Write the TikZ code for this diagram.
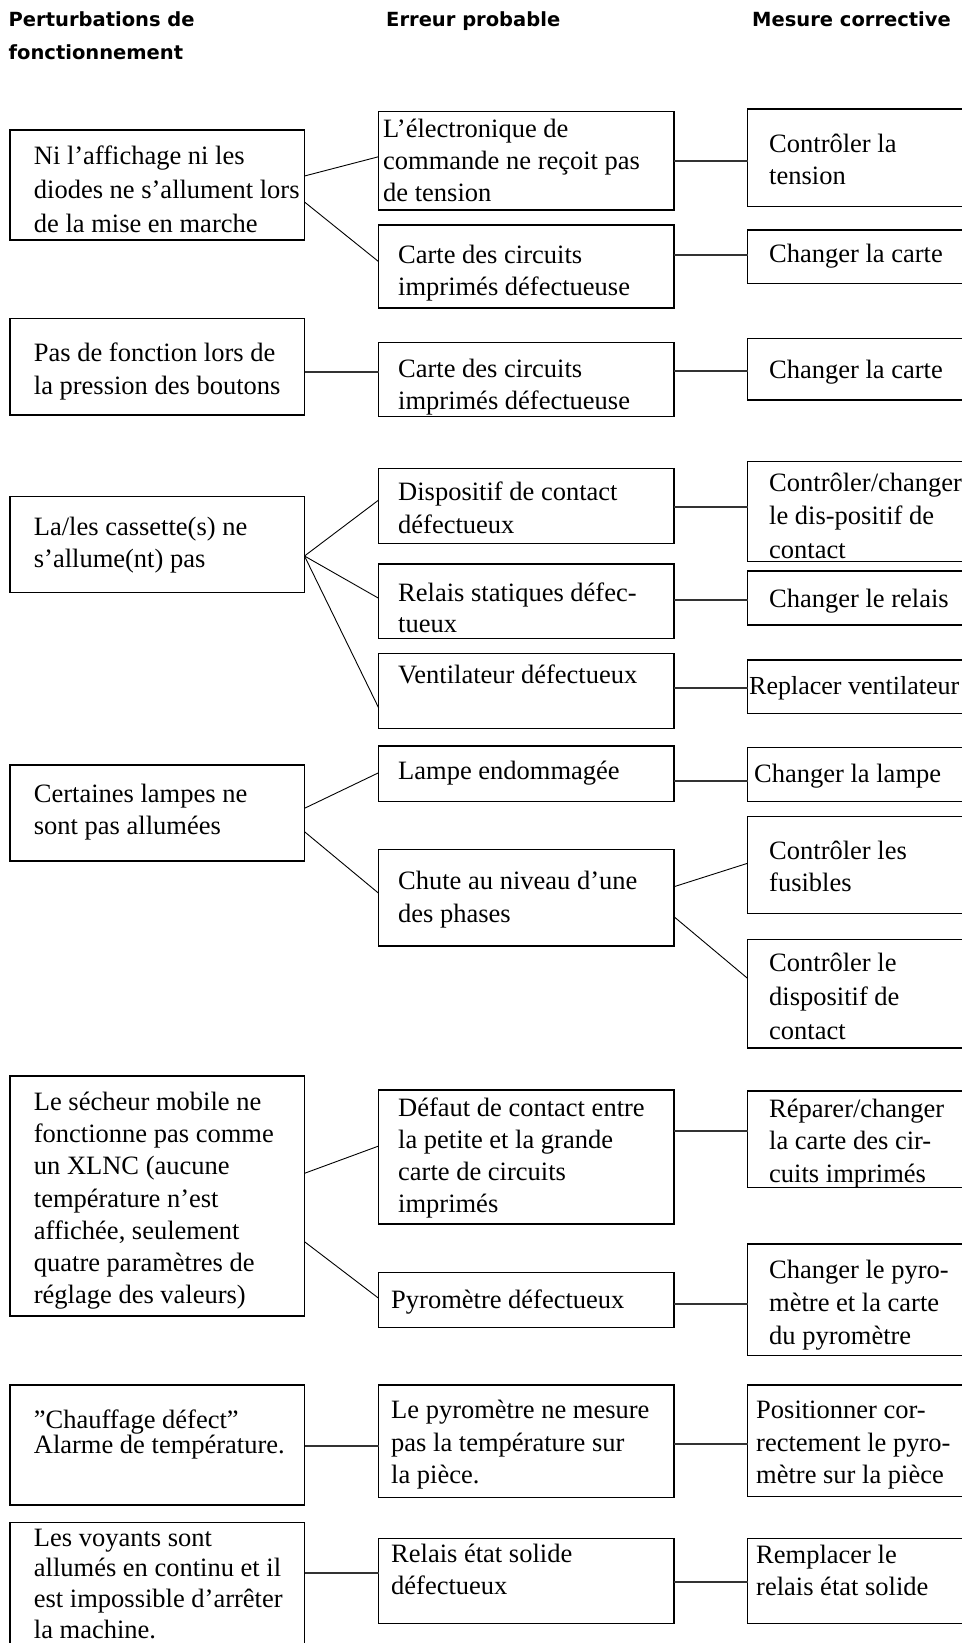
\documentclass[tikz,border=0pt]{standalone}
\usepackage{fontspec}
\setmainfont{Liberation Serif}
\newfontfamily\hdrfont{DejaVu Sans}
\setlength{\lineskiplimit}{-20pt}
\tikzset{
  box/.style={draw=black, line width=1.5pt, rectangle, inner sep=0pt, outer sep=0pt, anchor=north west},
  txt/.style={anchor=north west, inner sep=0pt, align=left},
  hdr/.style={anchor=north west, inner sep=0pt, align=left, font=\hdrfont\bfseries\fontsize{19.5}{32.5}\selectfont},
  hline/.style={draw=black!80, line width=1.8pt},
  sline/.style={draw=black, line width=0.9pt},
}
% \mybox{name}{x1}{y1}{x2}{y2}
\newcommand\mybox[5]{\node[box, minimum width={#4-#2}, minimum height={#5-#3}] (#1) at (#2,#3) {};}
% \mytext[line spacing]{name}{x}{first baseline}{text}
\newcommand\mytext[5][32.5]{\node[txt, font=\fontsize{26.5}{#1}\selectfont] (#2) at (#3,{#4-0.7*#1}) {\strut #5};}
% \conn[style]{A}{dyA}{B}{dyB}
\newcommand\conn[5][sline]{\draw[#1] ([yshift=-#3pt]#2.north east) -- ([yshift=-#5pt]#4.north west);}
\begin{document}
\begin{tikzpicture}[x=1pt,y=-1pt]
\useasboundingbox (0,0) rectangle (961,1643);
% headers
\node[hdr] (h1) at (8.5,4) {\strut Perturbations de\\fonctionnement};
\node[hdr] (h2) at (386,4) {\strut Erreur probable};
\node[hdr] (h3) at (752,4) {\strut Mesure corrective};

% ---- group 1
\mybox{L1}{10}{130}{304.5}{240}
\mybox{M1a}{378.7}{111.7}{674}{210}
\mybox{M1b}{378.7}{225}{674}{308}
\mybox{R1a}{747.5}{109}{975}{206.7}
\mybox{R1b}{747.5}{230}{975}{283.3}
\mytext[34]{L1t}{33.7}{164}{Ni l’affichage ni les\\diodes ne s’allument lors\\de la mise en marche}
\mytext[32]{M1at}{383}{137}{L’électronique de\\commande ne reçoit pas\\de tension}
\mytext[32]{M1bt}{398}{263.7}{Carte des circuits\\imprimés défectueuse}
\mytext{R1at}{769}{152}{Contrôler la\\tension}
\mytext{R1bt}{769}{262}{Changer la carte}
\conn{L1}{46}{M1a}{45}
\conn{L1}{72}{M1b}{36.7}
\conn[hline]{M1a}{49.3}{R1a}{52}
\conn[hline]{M1b}{30}{R1b}{25}

% ---- group 2
\mybox{L2}{10}{318.3}{304.5}{415}
\mybox{M2}{378.7}{342.3}{674}{416.7}
\mybox{R2}{747.5}{338.3}{975}{400}
\mytext[33]{L2t}{33.7}{361}{Pas de fonction lors de\\la pression des boutons}
\mytext{M2t}{398}{377}{Carte des circuits\\imprimés défectueuse}
\mytext{R2t}{769}{378.2}{Changer la carte}
\conn[hline]{L2}{53.4}{M2}{29.4}
\conn[hline]{M2}{28.4}{R2}{32.4}

% ---- group 3
\mybox{L3}{10}{496.7}{304.5}{592.5}
\mybox{M3a}{378.7}{468.3}{674}{543.3}
\mybox{R3a}{747.5}{461.7}{975}{561.7}
\mybox{M3b}{378.7}{564}{674}{638.3}
\mybox{R3b}{747.5}{571}{975}{625}
\mybox{M3c}{378.7}{653.3}{674}{728.3}
\mybox{R3c}{747.5}{660}{975}{713.3}
\mytext{L3t}{33.7}{535.2}{La/les cassette(s) ne\\s’allume(nt) pas}
\mytext[33]{M3at}{398}{500.5}{Dispositif de contact\\défectueux}
\mytext[33.5]{R3at}{769}{491}{Contrôler/changer\\le dis-positif de\\contact}
\mytext[31.7]{M3bt}{398}{601}{Relais statiques défec-\\tueux}
\mytext{R3bt}{769}{607}{Changer le relais}
\mytext{M3ct}{398}{683.7}{Ventilateur défectueux}
\node[txt, font=\fontsize{26}{32}\selectfont] (R3ct) at (749,{694.5-22.4}) {\strut Replacer ventilateur};
\conn{L3}{59.3}{M3a}{31.7}
\conn{L3}{59.3}{M3b}{34.3}
\conn{L3}{59.3}{M3c}{54.7}
\conn[hline]{M3a}{38.4}{R3a}{45}
\conn[hline]{M3b}{36}{R3b}{29}
\conn[hline]{M3c}{35}{R3c}{28.3}

% ---- group 4
\mybox{L4}{10}{765}{304.5}{861}
\mybox{M4a}{378.7}{746}{674}{801.7}
\mybox{R4a}{747.5}{747.3}{975}{801.7}
\mybox{M4b}{378.7}{849.3}{674}{946}
\mybox{R4b}{747.5}{816.7}{975}{913.3}
\mybox{R4c}{747.5}{939.3}{975}{1048}
\mytext[32]{L4t}{33.7}{802}{Certaines lampes ne\\sont pas allumées}
\mytext{M4at}{398}{779.7}{Lampe endommagée}
\mytext{R4at}{754}{782}{Changer la lampe}
\mytext{M4bt}{398}{889.7}{Chute au niveau d’une\\des phases}
\mytext[32]{R4bt}{769}{859}{Contrôler les\\fusibles}
\mytext[34]{R4ct}{769}{971}{Contrôler le\\dispositif de\\contact}
\conn{L4}{43.3}{M4a}{26.7}
\conn{L4}{66.7}{M4b}{44}
\conn[hline]{M4a}{34.7}{R4a}{33.4}
\conn{M4b}{37.4}{R4b}{46.6}
\conn{M4b}{67.4}{R4c}{39}

% ---- group 5
\mybox{L5}{10}{1076}{304.5}{1316}
\mybox{M5a}{378.7}{1090}{674}{1224}
\mybox{R5a}{747.5}{1091}{975}{1187.7}
\mybox{M5b}{378.7}{1272.7}{674}{1327.3}
\mybox{R5b}{747.5}{1244}{975}{1355.7}
\mytext[32.2]{L5t}{33.7}{1110.3}{Le sécheur mobile ne\\fonctionne pas comme\\un XLNC (aucune\\température n’est\\affichée, seulement\\quatre paramètres de\\réglage des valeurs)}
\mytext[32]{M5at}{398}{1116}{Défaut de contact entre\\la petite et la grande\\carte de circuits\\imprimés}
\mytext{R5at}{769}{1117}{Réparer/changer\\la carte des cir-\\cuits imprimés}
\mytext{M5bt}{391}{1308}{Pyromètre défectueux}
\mytext[33]{R5bt}{769}{1278.7}{Changer le pyro-\\mètre et la carte\\du pyromètre}
\conn{L5}{97.3}{M5a}{56}
\conn{L5}{165.7}{M5b}{25.6}
\conn[hline]{M5a}{41}{R5a}{40}
\conn[hline]{M5b}{31.3}{R5b}{60}

% ---- group 6
\mybox{L6}{10}{1385}{304.5}{1505}
\mybox{M6}{378.7}{1385}{674}{1497.3}
\mybox{R6}{747.5}{1385}{975}{1496.7}
\mytext[25]{L6t}{33.7}{1427}{”Chauffage défect”\\Alarme de température.}
\mytext{M6t}{391}{1418.7}{Le pyromètre ne mesure\\pas la température sur\\la pièce.}
\mytext{R6t}{756}{1418.7}{Positionner cor-\\rectement le pyro-\\mètre sur la pièce}
\conn[hline]{L6}{60.7}{M6}{60.7}
\conn[hline]{M6}{59}{R6}{59}

% ---- group 7
\mybox{L7}{10}{1522.3}{304.5}{1660}
\mybox{M7}{378.7}{1538.3}{674}{1623.3}
\mybox{R7}{747.5}{1538.3}{975}{1623.3}
\mytext[30.7]{L7t}{33.7}{1546}{Les voyants sont\\allumés en continu et il\\est impossible d’arrêter\\la machine.}
\mytext[32]{M7t}{391}{1562}{Relais état solide\\défectueux}
\mytext[32]{R7t}{756}{1563.7}{Remplacer le\\relais état solide}
\conn[hline]{L7}{51}{M7}{35}
\conn[hline]{M7}{43.4}{R7}{43.4}
\end{tikzpicture}
\end{document}
